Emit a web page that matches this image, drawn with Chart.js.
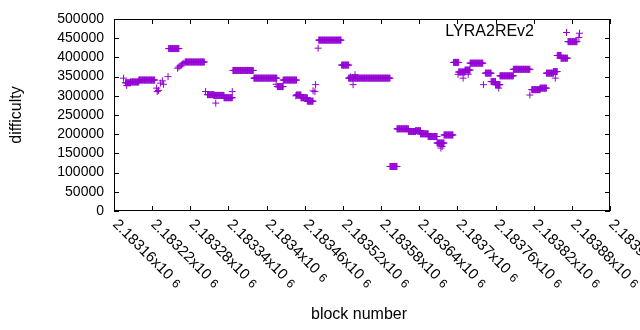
<!doctype html>
<html>
<head>
	<title>LYRA2REv2 difficulty</title>
	<script src="https://cdn.jsdelivr.net/npm/chart.js@4.4.1/dist/chart.umd.min.js"></script>
	<style>
		body { margin: 0; background: #fff; }
		canvas { display: block; }
	</style>
</head>
<body>
	<canvas id="canvas" width="640" height="330"></canvas>
	<script>
		// runs of blocks that share one difficulty value
		var runStart = [2183178, 2183186, 2183199, 2183246, 2183272, 2183307, 2183317, 2183333, 2183347, 2183380,
			2183417, 2183426, 2183447, 2183454, 2183464, 2183482, 2183518, 2183529, 2183594, 2183605,
			2183623, 2183634, 2183642, 2183654, 2183668, 2183679, 2183694, 2183702, 2183712, 2183720,
			2183744, 2183753, 2183760, 2183767, 2183788, 2183817, 2183830, 2183840, 2183851, 2183857,
			2183863, 2183874];
		var runEnd = [2183186, 2183199, 2183224, 2183262, 2183302, 2183317, 2183333, 2183346, 2183379, 2183416,
			2183426, 2183447, 2183454, 2183464, 2183473, 2183517, 2183529, 2183594, 2183605, 2183623,
			2183634, 2183642, 2183654, 2183668, 2183679, 2183693, 2183702, 2183712, 2183720, 2183740,
			2183753, 2183760, 2183767, 2183788, 2183814, 2183830, 2183840, 2183851, 2183857, 2183863,
			2183873, 2183888];
		var runValue = [334000, 336000, 341000, 423000, 388000, 303000, 301000, 295000, 366000, 346000,
			324000, 341000, 302000, 295000, 286000, 445000, 380000, 346000, 116000, 214000,
			207000, 209000, 201000, 194000, 177000, 198000, 387000, 362000, 367000, 385000,
			359000, 337000, 329000, 352000, 369000, 316000, 320000, 359000, 363000, 405000,
			398000, 441000];

		// single scattered blocks
		var pointBlock = [2183175, 2183180, 2183227, 2183228, 2183230, 2183233, 2183236, 2183238, 2183245,
			2183260, 2183262, 2183264, 2183266, 2183268, 2183270, 2183304, 2183320, 2183346, 2183415,
			2183446, 2183473, 2183476, 2183477, 2183481, 2183532, 2183536, 2183539, 2183674, 2183676,
			2183701, 2183709, 2183717, 2183741, 2183765, 2183814, 2183854, 2183891, 2183892];
		var pointValue = [346000, 327000, 320000, 311000, 314000, 333000, 339000, 330000, 350000,
			372000, 375000, 378000, 380000, 383000, 385000, 311000, 281000, 311000, 330000,
			300000, 313000, 311000, 329000, 424000, 349000, 329000, 355000, 164000, 168000,
			356000, 346000, 356000, 329000, 320000, 302000, 346000, 452000, 463000];

		var xTickValues = [2183160, 2183220, 2183280, 2183340, 2183400, 2183460, 2183520, 2183580,
			2183640, 2183700, 2183760, 2183820, 2183880, 2183940];
		var xTickLabels = ['2.18316', '2.18322', '2.18328', '2.18334', '2.1834', '2.18346', '2.18352',
			'2.18358', '2.18364', '2.1837', '2.18376', '2.18382', '2.18388', '2.18394'];
		var yTickValues = [0, 50000, 100000, 150000, 200000, 250000, 300000, 350000, 400000, 450000, 500000];

		var seriesName = 'LYRA2REv2';
		var purple = '#9400d3';
		var fontFamily = '"Liberation Sans", Arial, sans-serif';

		var points = [];
		for (var i = 0; i < runStart.length; i++) {
			for (var b = runStart[i]; b <= runEnd[i]; b++) {
				points.push({ x: b, y: runValue[i] });
			}
		}
		for (var j = 0; j < pointBlock.length; j++) {
			points.push({ x: pointBlock[j], y: pointValue[j] });
		}
		points.sort(function (a, b) { return a.x - b.x; });

		// gnuplot-like frame, inward ticks, rotated labels and key
		var framePlugin = {
			id: 'frame',
			afterDraw: function (chart) {
				var ctx = chart.ctx;
				var a = chart.chartArea;
				var xs = chart.scales.x, ys = chart.scales.y;
				ctx.save();
				ctx.strokeStyle = '#000';
				ctx.lineWidth = 1;
				ctx.strokeRect(a.left + 0.5, a.top + 0.5, a.right - a.left - 1, a.bottom - a.top - 1);

				ctx.beginPath();
				xTickValues.forEach(function (v) {
					var px = Math.round(xs.getPixelForValue(v)) + 0.5;
					ctx.moveTo(px, a.bottom);
					ctx.lineTo(px, a.bottom - 5);
					ctx.moveTo(px, a.top);
					ctx.lineTo(px, a.top + 5);
				});
				yTickValues.forEach(function (v) {
					var py = Math.round(ys.getPixelForValue(v)) + 0.5;
					ctx.moveTo(a.left, py);
					ctx.lineTo(a.left + 5, py);
					ctx.moveTo(a.right, py);
					ctx.lineTo(a.right - 5, py);
				});
				ctx.stroke();

				ctx.fillStyle = '#000';
				ctx.font = '14px ' + fontFamily;
				ctx.textAlign = 'right';
				ctx.textBaseline = 'middle';
				yTickValues.forEach(function (v) {
					ctx.fillText(String(v), a.left - 10, ys.getPixelForValue(v));
				});

				xTickValues.forEach(function (v, k) {
					var px = xs.getPixelForValue(v);
					ctx.save();
					ctx.translate(px + 1, a.bottom + 11);
					ctx.rotate(Math.PI / 4);
					ctx.textAlign = 'left';
					ctx.textBaseline = 'middle';
					ctx.font = '15px ' + fontFamily;
					var txt = xTickLabels[k] + 'x10';
					ctx.fillText(txt, 0, 0);
					var w = ctx.measureText(txt).width;
					ctx.font = '12px ' + fontFamily;
					ctx.fillText('6', w + 5, 1);
					ctx.restore();
				});

				ctx.font = '16px ' + fontFamily;
				ctx.textAlign = 'center';
				ctx.textBaseline = 'middle';
				ctx.fillText('block number', 359, 315);
				ctx.save();
				ctx.translate(17, (a.top + a.bottom) / 2);
				ctx.rotate(-Math.PI / 2);
				ctx.fillText('difficulty', 0, 0);
				ctx.restore();

				// key
				ctx.textAlign = 'right';
				ctx.fillText(seriesName, 534, 32);
				ctx.strokeStyle = purple;
				ctx.beginPath();
				ctx.moveTo(563, 32.5);
				ctx.lineTo(570, 32.5);
				ctx.moveTo(566.5, 29);
				ctx.lineTo(566.5, 36);
				ctx.stroke();
				ctx.restore();
			}
		};

		var ctx = document.getElementById('canvas').getContext('2d');
		window.myChart = new Chart(ctx, {
			type: 'scatter',
			data: {
				datasets: [{
					label: seriesName,
					data: points,
					pointStyle: 'cross',
					pointRadius: 3.5,
					pointHoverRadius: 3.5,
					pointBorderWidth: 1,
					borderColor: purple,
					backgroundColor: purple,
					showLine: false
				}]
			},
			options: {
				responsive: false,
				animation: false,
				events: [],
				layout: { padding: { left: 114, right: 30, top: 19, bottom: 119 } },
				plugins: { legend: { display: false }, tooltip: { enabled: false } },
				scales: {
					x: { type: 'linear', min: 2183160, max: 2183940, display: false },
					y: { type: 'linear', min: 0, max: 500000, display: false }
				}
			},
			plugins: [framePlugin]
		});
	</script>
</body>
</html>
